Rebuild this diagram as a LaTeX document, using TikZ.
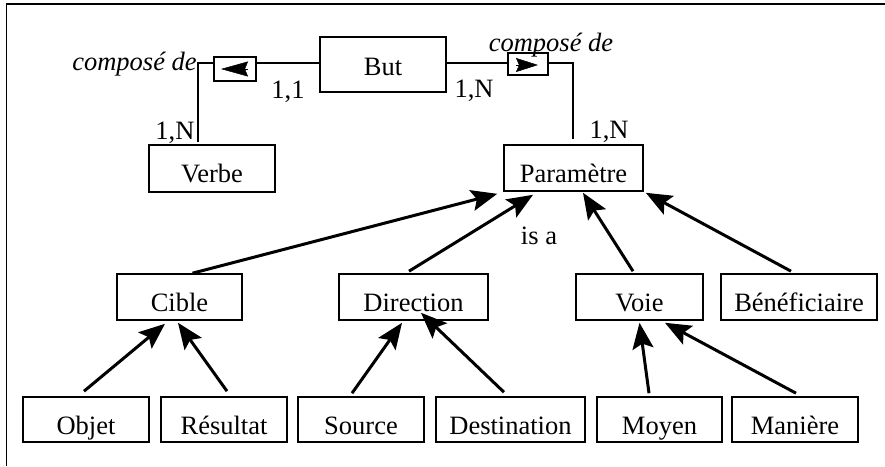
\documentclass[tikz,border=0pt]{standalone}
\usepackage{fontspec}
\setmainfont{Liberation Serif}
\usetikzlibrary{arrows.meta}
\begin{document}
\begin{tikzpicture}[x=1pt,y=-1pt,
  lbl/.style={font=\fontsize{26.5}{30}\selectfont, inner sep=0pt},
  ent/.style={draw, line width=1.6pt, font=\fontsize{26.5}{30}\selectfont, inner sep=0pt,
              text height=29pt, text depth=0pt, minimum height=45pt},
  relbox/.style={draw, line width=1.6pt, inner sep=0pt},
  rel/.style={line width=1.6pt},
  isa/.style={line width=3pt, -{Stealth[length=26pt,width=21pt,inset=5pt]}},
  dirl/.style={line width=0.5pt, -{Stealth[length=27pt,width=15pt,inset=3pt]}},
  dirr/.style={line width=0.5pt, -{Stealth[length=22pt,width=14pt,inset=3pt]}}]
\useasboundingbox (0,0) rectangle (885,466);
% frame
\coordinate (fTL) at (6,4);
\draw[line width=2pt] (885,4) -- (fTL);
\draw[line width=1pt] (fTL) -- (6,466);

% entities
\node[ent, minimum width=126pt, minimum height=55pt, text height=21pt] (but) at (383,64.5) {But};
\node[ent, minimum width=126pt, minimum height=47pt, text height=27pt] (verbe) at (212,168.5) {Verbe};
\node[ent, minimum width=139pt, minimum height=46pt, text height=28pt] (param) at (573.5,168) {Paramètre};
\node[ent, minimum width=125pt, minimum height=46pt] (cible) at (179.5,297) {Cible};
\node[ent, minimum width=149pt, minimum height=46pt] (direction) at (413.5,297) {Direction};
\node[ent, minimum width=127pt, minimum height=46pt] (voie) at (639.5,297) {Voie};
\node[ent, minimum width=156pt, minimum height=46pt] (benef) at (799,297) {Bénéficiaire};
\node[ent, minimum width=126pt] (objet) at (86,419.5) {Objet};
\node[ent, minimum width=126pt] (resultat) at (224,419.5) {Résultat};
\node[ent, minimum width=126pt] (source) at (361,419.5) {Source};
\node[ent, minimum width=149pt] (destination) at (510.5,419.5) {Destination};
\node[ent, minimum width=125pt] (moyen) at (659.5,419.5) {Moyen};
\node[ent, minimum width=126pt] (maniere) at (795,419.5) {Manière};

% relationship boxes
\node[relbox, minimum width=42pt, minimum height=24pt] (rel1) at (235,69) {};
\node[relbox, minimum width=40pt, minimum height=22pt] (rel2) at (528,64) {};
\draw[dirl] ([xshift=13pt]rel1.center) -- ([xshift=-14pt]rel1.center);
\draw[dirr] ([xshift=-12pt,yshift=-1pt]rel2.center) -- ([xshift=10pt,yshift=-1pt]rel2.center);

% labels
\node[lbl, anchor=base, font=\fontsize{26.5}{30}\selectfont\itshape] (comp1) at (134.5,70) {composé de};
\node[lbl, anchor=base, font=\fontsize{26.5}{30}\selectfont\itshape] (comp2) at (551,51) {composé de};
\node[lbl, anchor=base] (c11) at (288,98) {1,1};
\node[lbl, anchor=base] (cv) at (175,139) {1,N};
\node[lbl, anchor=base] (cb) at (474,97) {1,N};
\node[lbl, anchor=base] (cp) at (609,138) {1,N};
\node[lbl, anchor=base] (isalbl) at (539,244) {is a};

% relationship lines
\coordinate (j1) at (198,63);
\coordinate (j2) at (573,63);
\draw[rel] ([xshift=-14pt,yshift=2pt]verbe.north) -- (j1) -- ([yshift=6pt]rel1.west);
\draw[rel] ([yshift=6pt]rel1.east) -- ([yshift=1.5pt]but.west);
\draw[rel] ([yshift=1.5pt]but.east) -- ([yshift=1pt]rel2.west);
\draw[rel] ([yshift=1pt]rel2.east) -- (j2) -- ([xshift=-0.5pt,yshift=5pt]param.north);

% is-a arrows
\draw[isa] ([xshift=13pt]cible.north) -- ([xshift=-6pt,yshift=-2pt]param.south west);
\draw[isa] ([xshift=-4.5pt,yshift=2pt]direction.north) -- ([xshift=-40.5pt,yshift=-3pt]param.south);
\draw[isa] ([xshift=-6.5pt,yshift=2pt]voie.north) -- ([xshift=9.5pt,yshift=-1pt]param.south);
\draw[isa] ([xshift=-8pt,yshift=2pt]benef.north) -- ([xshift=2pt,yshift=-1pt]param.south east);
\draw[isa] ([xshift=-2pt,yshift=5pt]objet.north) -- ([xshift=-14.5pt,yshift=-3pt]cible.south);
\draw[isa] ([xshift=3pt,yshift=5pt]resultat.north) -- ([xshift=-1.5pt,yshift=-2pt]cible.south);
\draw[isa] ([xshift=-9pt,yshift=3pt]source.north) -- ([xshift=-11.5pt,yshift=-2pt]direction.south);
\draw[isa] ([xshift=-6.5pt,yshift=4pt]destination.north) -- ([xshift=7.5pt,yshift=8pt]direction.south);
\draw[isa] ([xshift=-10.5pt,yshift=3pt]moyen.north) -- ([yshift=-2pt]voie.south);
\draw[isa] ([xshift=1pt,yshift=3pt]maniere.north) -- ([xshift=25.5pt,yshift=-2pt]voie.south);
\end{tikzpicture}
\end{document}
